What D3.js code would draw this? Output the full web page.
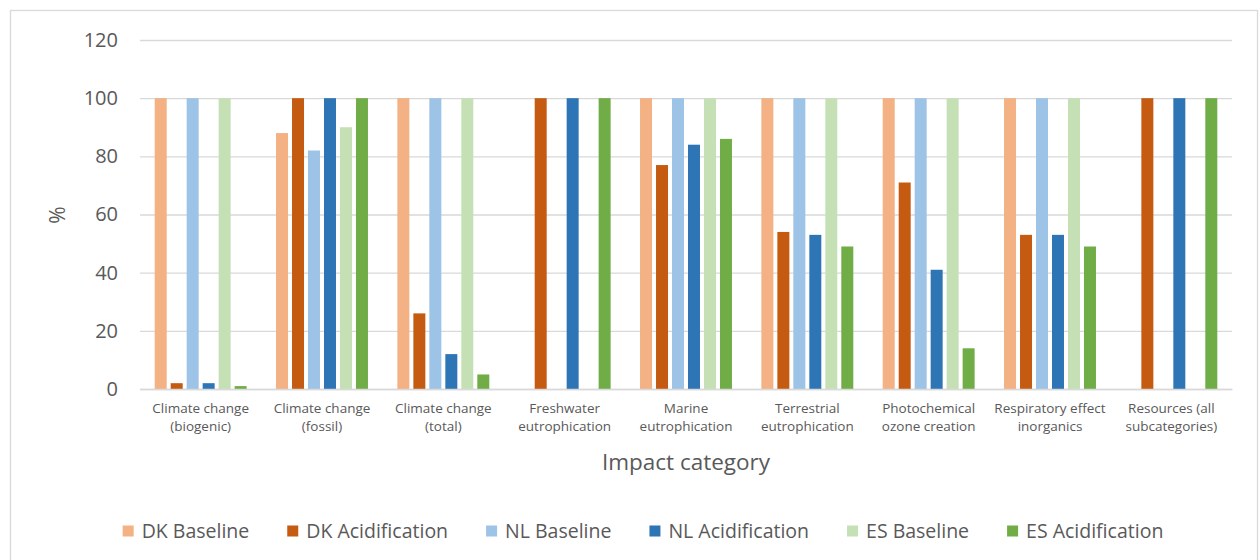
<!DOCTYPE html>
<html>
<head>
<meta charset="utf-8">
<script src="https://cdn.jsdelivr.net/npm/d3@7"></script>
<style>
  html, body { margin: 0; padding: 0; background: #ffffff; }
  svg { display: block; font-family: "Open Sans", "Noto Sans", sans-serif; }
  svg text { font-family: "Open Sans", "Noto Sans", sans-serif; }
  .tick text { fill: #595959; }
</style>
</head>
<body>
<svg id="chart" width="1260" height="560"></svg>
<script>
// Impact categories (line breaks mark how each axis label wraps)
const categories = [
  "Climate change\n(biogenic)",
  "Climate change\n(fossil)",
  "Climate change\n(total)",
  "Freshwater\neutrophication",
  "Marine\neutrophication",
  "Terrestrial\neutrophication",
  "Photochemical\nozone creation",
  "Respiratory effect\ninorganics",
  "Resources (all\nsubcategories)"
];

// Relative impact per scenario, % of the highest scenario in each category
const dkBaseline      = [100, 88, 100,   0, 100, 100, 100, 100,   0];
const dkAcidification = [  2, 100, 26, 100,  77,  54,  71,  53, 100];
const nlBaseline      = [100, 82, 100,   0, 100, 100, 100, 100,   0];
const nlAcidification = [  2, 100, 12, 100,  84,  53,  41,  53, 100];
const esBaseline      = [100, 90, 100,   0, 100, 100, 100, 100,   0];
const esAcidification = [  1, 100,  5, 100,  86,  49,  14,  49, 100];

const seriesNames  = ["DK Baseline", "DK Acidification", "NL Baseline", "NL Acidification", "ES Baseline", "ES Acidification"];
const seriesValues = [dkBaseline, dkAcidification, nlBaseline, nlAcidification, esBaseline, esAcidification];
const seriesColors = ["#F4B183", "#C55A11", "#9DC3E6", "#2E75B6", "#C5E0B4", "#70AD47"];

const yTicks = [0, 20, 40, 60, 80, 100, 120];

const svg = d3.select("#chart");

// outer chart frame
svg.append("rect")
  .attr("x", 10.5).attr("y", 10.5)
  .attr("width", 1247).attr("height", 560)
  .attr("fill", "#ffffff")
  .attr("stroke", "#D9D9D9")
  .attr("stroke-width", 1.3);

const plot = { left: 140, right: 1232, top: 40, bottom: 389 };

const y = d3.scaleLinear().domain([0, 120]).range([plot.bottom, plot.top]);
const x0 = d3.scaleBand().domain(categories).range([plot.left, plot.right]).padding(0);
const x1 = d3.scaleBand().domain(seriesNames).range([0, x0.bandwidth()])
  .paddingInner(0.25).paddingOuter(0.92);
const color = d3.scaleOrdinal().domain(seriesNames).range(seriesColors);

// y axis with gridlines
const yAxis = svg.append("g")
  .attr("transform", `translate(${plot.left},0)`)
  .call(d3.axisLeft(y).tickValues(yTicks).tickSize(-(plot.right - plot.left)).tickPadding(22));
yAxis.attr("font-family", null).attr("font-size", null);
yAxis.select(".domain").remove();
yAxis.selectAll(".tick line").attr("stroke", "#D9D9D9").attr("stroke-width", 1.4);
yAxis.selectAll(".tick text").attr("font-size", 20);

// bars
const rows = categories.map((c, i) => ({
  category: c,
  values: seriesNames.map((s, j) => ({ series: s, value: seriesValues[j][i] }))
}));

svg.append("g").selectAll("g")
  .data(rows)
  .join("g")
  .attr("transform", d => `translate(${x0(d.category)},0)`)
  .selectAll("rect")
  .data(d => d.values)
  .join("rect")
  .attr("x", d => x1(d.series))
  .attr("width", x1.bandwidth())
  .attr("y", d => y(d.value))
  .attr("height", d => y(0) - y(d.value))
  .attr("fill", d => color(d.series));

// x axis baseline and wrapped category labels
const xAxis = svg.append("g")
  .attr("transform", `translate(0,${plot.bottom})`)
  .call(d3.axisBottom(x0).tickSize(0).tickFormat(""));
xAxis.attr("font-family", null).attr("font-size", null);
xAxis.select(".domain").attr("stroke", "#D9D9D9").attr("stroke-width", 1.4);
xAxis.selectAll(".tick").each(function(d) {
  const t = d3.select(this).append("text")
    .attr("fill", "#595959")
    .attr("font-size", 13.5)
    .attr("text-anchor", "middle");
  d.split("\n").forEach((line, k) => {
    t.append("tspan").attr("x", 0).attr("y", 24 + k * 18).text(line);
  });
});

// axis titles
svg.append("text")
  .attr("x", (plot.left + plot.right) / 2)
  .attr("y", 470)
  .attr("text-anchor", "middle")
  .attr("fill", "#595959")
  .attr("font-size", 22.5)
  .text("Impact category");

svg.append("text")
  .attr("transform", "translate(65,215) rotate(-90)")
  .attr("text-anchor", "middle")
  .attr("fill", "#595959")
  .attr("font-size", 21)
  .text("%");

// legend
const legend = svg.append("g").attr("transform", "translate(0,531)");
const items = legend.selectAll("g").data(seriesNames).join("g");
items.append("rect")
  .attr("width", 11).attr("height", 11)
  .attr("y", -5.5)
  .attr("fill", d => color(d));
items.append("text")
  .attr("x", 19)
  .attr("y", 0)
  .attr("dy", "0.35em")
  .attr("fill", "#595959")
  .attr("font-size", 19.5)
  .text(d => d);
let cursor = 0;
const gapBetween = 38;
const offsets = [];
items.each(function() {
  offsets.push(cursor);
  const w = d3.select(this).select("text").node().getComputedTextLength();
  cursor += 19 + w + gapBetween;
});
const totalW = cursor - gapBetween;
const startX = 643 - totalW / 2;
items.attr("transform", (d, i) => `translate(${startX + offsets[i]},0)`);
</script>
</body>
</html>
